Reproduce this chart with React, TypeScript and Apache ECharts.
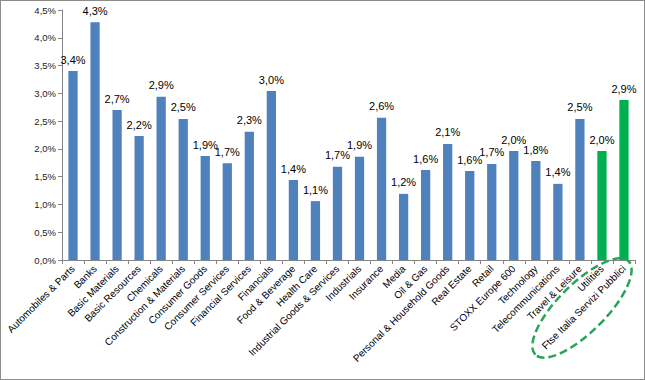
import React, { useEffect, useRef } from "react";
import * as echarts from "echarts";

const categories = [
  "Automobiles & Parts", "Banks", "Basic Materials", "Basic Resources", "Chemicals",
  "Construction & Materials", "Consumer Goods", "Consumer Services", "Financial Services",
  "Financials", "Food & Beverage", "Health Care", "Industrial Goods & Services", "Industrials",
  "Insurance", "Media", "Oil & Gas", "Personal & Household Goods", "Real Estate", "Retail",
  "STOXX Europe 600", "Technology", "Telecommunications", "Travel & Leisure", "Utilities",
  "Ftse Italia Servizi Pubblici",
];
const values = [
  3.40, 4.28, 2.70, 2.23, 2.94, 2.54, 1.87, 1.74, 2.31, 3.04, 1.44, 1.06, 1.68, 1.86,
  2.56, 1.19, 1.62, 2.09, 1.60, 1.73, 1.96, 1.78, 1.37, 2.54, 1.96, 2.88,
];
const highlighted = ["Utilities", "Ftse Italia Servizi Pubblici"];
const yTicks = { min: 0, max: 4.5, interval: 0.5 };

const BLUE = "#4F81BD";
const GREEN = "#00B050";

const fmt = (v: number) => v.toFixed(1).replace(".", ",") + "%";

export default function App() {
  const ref = useRef<HTMLDivElement>(null);
  useEffect(() => {
    if (!ref.current) return;
    const chart = echarts.init(ref.current, undefined, { renderer: "svg" });
    chart.setOption({
      animation: false,
      textStyle: { fontFamily: "Liberation Sans" },
      grid: { left: 62, right: 10, top: 10, bottom: 120, containLabel: false },
      xAxis: {
        type: "category",
        data: categories,
        axisLine: { lineStyle: { color: "#868686", width: 1 } },
        axisTick: { show: true, alignWithLabel: false, length: 4, lineStyle: { color: "#868686" } },
        axisLabel: {
          interval: 0,
          rotate: 45,
          fontSize: 10,
          color: "#000",
          margin: 7,
          fontFamily: "Liberation Sans",
        },
      },
      yAxis: {
        type: "value",
        min: yTicks.min,
        max: yTicks.max,
        interval: yTicks.interval,
        splitLine: { show: false },
        axisLine: { show: true, lineStyle: { color: "#868686", width: 1 } },
        axisTick: { show: true, length: 4, lineStyle: { color: "#868686" } },
        axisLabel: {
          fontSize: 9.5,
          color: "#222",
          margin: 6,
          formatter: (v: number) => fmt(v),
        },
      },
      series: [
        {
          type: "bar",
          barWidth: "42%",
          data: values.map((v, i) => ({
            value: v,
            itemStyle: { color: highlighted.includes(categories[i]) ? GREEN : BLUE },
          })),
          label: {
            show: true,
            position: "top",
            distance: 6,
            fontSize: 11,
            color: "#000",
            formatter: (p: any) => fmt(p.value),
          },
        },
      ],
      graphic: [
        {
          type: "ellipse",
          x: 582,
          y: 308,
          rotation: Math.PI / 4,
          shape: { cx: 0, cy: 0, rx: 66, ry: 24 },
          style: {
            fill: "none",
            stroke: "#2AA35A",
            lineWidth: 2.5,
            lineDash: [8, 4],
          },
          z: 100,
        },
      ],
    });
    return () => chart.dispose();
  }, []);
  return (
    <div
      style={{
        position: "absolute",
        left: 0,
        top: 0,
        width: 645,
        height: 380,
        boxSizing: "border-box",
        border: "1px solid #8c8c8c",
        background: "#fff",
      }}
    >
      <div ref={ref} style={{ position: "absolute", left: -1, top: -1, width: 645, height: 380 }} />
    </div>
  );
}
